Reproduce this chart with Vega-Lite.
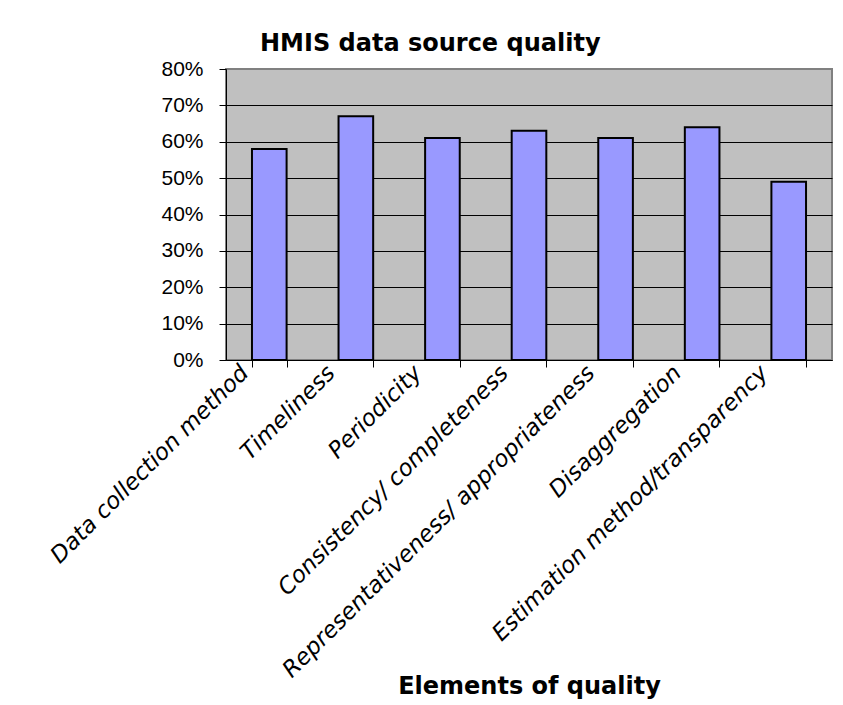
{
  "$schema": "https://vega.github.io/schema/vega-lite/v6.json",
  "autosize": "none",
  "width": 606,
  "height": 291,
  "padding": {"left": 226, "top": 69, "right": 11, "bottom": 345},
  "background": "white",
  "title": {
    "text": "HMIS data source quality",
    "anchor": "start",
    "frame": "group",
    "dx": 34,
    "offset": 2,
    "font": "DejaVu Sans",
    "fontSize": 24,
    "fontWeight": "bold",
    "color": "black"
  },
  "data": {
    "values": [
      {"element": "Data collection method", "share": 0.58},
      {"element": "Timeliness", "share": 0.67},
      {"element": "Periodicity", "share": 0.61},
      {"element": "Consistency/ completeness", "share": 0.63},
      {"element": "Representativeness/ appropriateness", "share": 0.61},
      {"element": "Disaggregation", "share": 0.64},
      {"element": "Estimation method/transparency", "share": 0.49}
    ]
  },
  "mark": {"type": "bar", "fill": "#9999FF", "stroke": "black", "strokeWidth": 2},
  "encoding": {
    "x": {
      "field": "element",
      "type": "nominal",
      "sort": null,
      "scale": {"paddingInner": 0.6, "paddingOuter": 0.3},
      "axis": {
        "title": "Elements of quality",
        "titleFont": "DejaVu Sans",
        "titleFontSize": 24,
        "titleFontWeight": "bold",
        "titleColor": "black",
        "titleBaseline": "alphabetic",
        "titleY": 333,
        "labelAngle": -45,
        "labelAlign": "right",
        "labelBaseline": "middle",
        "labelFont": "DejaVu Sans",
        "labelFontSize": 23,
        "labelFontStyle": "italic",
        "labelColor": "black",
        "labelPadding": 2,
        "labelOffset": -25,
        "labelLimit": 0,
        "tickBand": "extent",
        "tickSize": 7,
        "tickColor": "black",
        "domainColor": "black",
        "domainWidth": 1,
        "grid": false
      }
    },
    "y": {
      "field": "share",
      "type": "quantitative",
      "scale": {"domain": [0, 0.8], "nice": false},
      "axis": {
        "title": null,
        "format": ".0%",
        "values": [0, 0.1, 0.2, 0.3, 0.4, 0.5, 0.6, 0.7, 0.8],
        "labelFont": "Liberation Sans",
        "labelFontSize": 21,
        "labelColor": "black",
        "labelPadding": 16,
        "tickSize": 7,
        "tickColor": "black",
        "domainColor": "black",
        "grid": true,
        "gridColor": {"condition": {"test": "datum.value >= 0.8", "value": "#808080"}, "value": "black"},
        "gridOpacity": 1,
        "gridWidth": 1
      }
    }
  },
  "config": {
    "view": {"fill": "#C0C0C0", "stroke": "#808080", "strokeWidth": 2}
  }
}
